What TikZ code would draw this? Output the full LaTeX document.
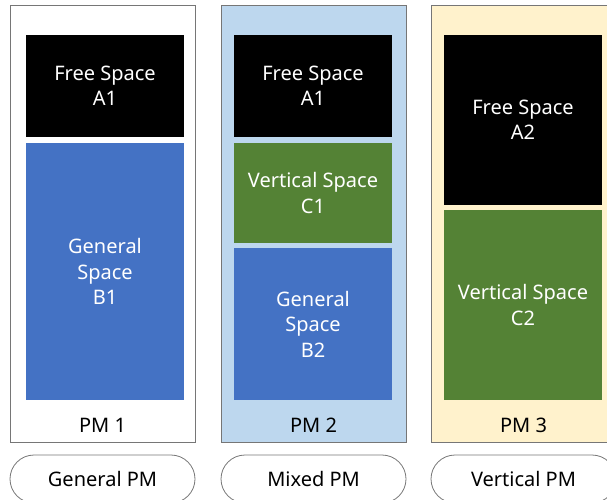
\documentclass[tikz,border=0pt]{standalone}
\usepackage{fontspec}
\setmainfont{Noto Sans}
\definecolor{pmblue}{HTML}{4472C4}
\definecolor{pmgreen}{HTML}{548235}
\definecolor{pmframe}{HTML}{767676}
\definecolor{mixfill}{HTML}{BDD7EE}
\definecolor{vertfill}{HTML}{FFF2CC}
\tikzset{
  pmbox/.style={draw=pmframe, line width=1pt, minimum width=185pt, minimum height=436pt, inner sep=0pt},
  space/.style={text=white, align=center, minimum width=158pt, inner sep=0pt, font=\fontsize{20}{25.5}\selectfont},
  pmlabel/.style={font=\fontsize{20}{22}\selectfont},
  kind/.style={draw=pmframe, line width=0.8pt, rounded corners=24pt, minimum width=185pt, minimum height=48pt, font=\fontsize{20}{22}\selectfont}
}
\begin{document}
\begin{tikzpicture}[x=1pt,y=-1pt]
\useasboundingbox (0,0) rectangle (607,500);
\clip (0,0) rectangle (607,500);

\node[pmbox, fill=white] (pm1) at (102.5,224) {};
\node[pmbox, fill=mixfill] (pm2) at (313.5,224) {};
\node[pmbox, fill=vertfill] (pm3) at (523.5,224) {};

\node[space, fill=black, minimum height=102pt] (a1) at (105,86) {Free Space\\A1};
\node[space, fill=pmblue, minimum height=257pt] (b1) at (105,271.5) {General\\Space\\B1};

\node[space, fill=black, minimum height=102pt] (a1m) at (313,86) {Free Space\\A1};
\node[space, fill=pmgreen, minimum height=100pt] (c1) at (313,193) {Vertical Space\\C1};
\node[space, fill=pmblue, minimum height=152pt] (b2) at (313,324) {General\\Space\\B2};

\node[space, fill=black, minimum height=170pt] (a2) at (523,120) {Free Space\\A2};
\node[space, fill=pmgreen, minimum height=190pt] (c2) at (523,305) {Vertical Space\\C2};

\node[pmlabel] (l1) at (102.5,425) {PM 1};
\node[pmlabel] (l2) at (313.5,425) {PM 2};
\node[pmlabel] (l3) at (523.5,425) {PM 3};

\node[kind] (k1) at (102.5,479) {General PM};
\node[kind] (k2) at (313.5,479) {Mixed PM};
\node[kind] (k3) at (523.5,479) {Vertical PM};
\end{tikzpicture}
\end{document}
